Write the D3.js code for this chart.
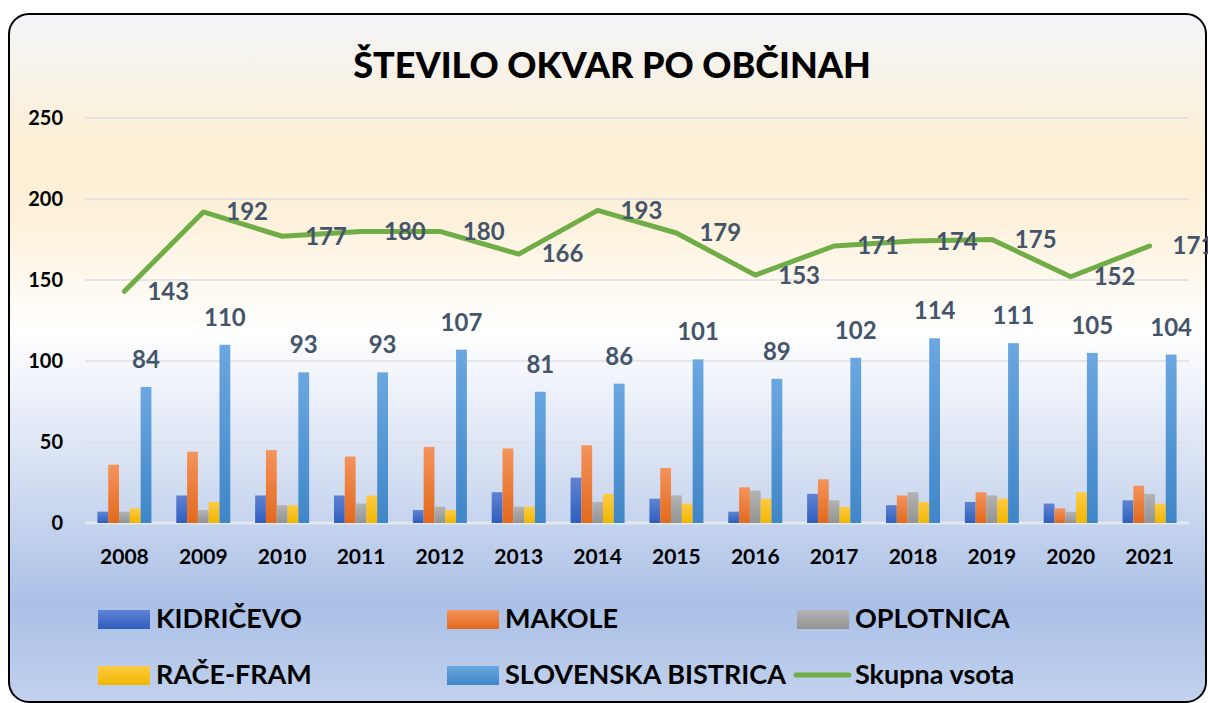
<!DOCTYPE html>
<html>
<head>
<meta charset="utf-8">
<script src="https://cdn.jsdelivr.net/npm/d3@7"></script>
<style>
  html, body { margin: 0; padding: 0; background: #fff; }
  svg { display: block; font-family: Lato, "Open Sans", sans-serif; font-weight: bold; }
</style>
</head>
<body>
<div id="chart"></div>
<script>
var years = ["2008","2009","2010","2011","2012","2013","2014","2015","2016","2017","2018","2019","2020","2021"];
var kidricevo = [7,17,17,17,8,19,28,15,7,18,11,13,12,14];
var makole = [36,44,45,41,47,46,48,34,22,27,17,19,9,23];
var oplotnica = [7,8,11,12,10,10,13,17,20,14,19,17,7,18];
var raceFram = [9,13,11,17,8,10,18,12,15,10,13,15,19,12];
var slovenskaBistrica = [84,110,93,93,107,81,86,101,89,102,114,111,105,104];
var skupnaVsota = [143,192,177,180,180,166,193,179,153,171,174,175,152,171];
var seriesNames = ["KIDRIČEVO","MAKOLE","OPLOTNICA","RAČE-FRAM","SLOVENSKA BISTRICA"];
var yTicks = [0,50,100,150,200,250];

(function() {
	"use strict";

	var width = 1208,
		height = 703,
		series = [kidricevo, makole, oplotnica, raceFram, slovenskaBistrica],
		colors = [
			["#5f83d3", "#2f5ebe"],
			["#f4935c", "#e3691c"],
			["#b3b3b3", "#939393"],
			["#ffca42", "#f0b700"],
			["#6ba7e0", "#3f86c8"]
		],
		labelColor = "#44546a";

	var svg = d3.select("#chart")
		.append("svg")
		.attr("width", width)
		.attr("height", height);

	var defs = svg.append("defs");

	var bg = defs.append("linearGradient")
		.attr("id", "bg")
		.attr("x1", 0).attr("y1", 0).attr("x2", 0).attr("y2", 1);
	[[0, "#f3f5f9"], [0.2, "#fdefd3"], [0.3, "#fdf1db"], [0.46, "#ffffff"],
	 [0.65, "#d9e2f3"], [0.86, "#aac0e6"], [1, "#c2d2ee"]].forEach(function(s) {
		bg.append("stop").attr("offset", s[0]).attr("stop-color", s[1]);
	});

	colors.forEach(function(c, i) {
		var g = defs.append("linearGradient")
			.attr("id", "bar" + i)
			.attr("x1", 0).attr("y1", 0).attr("x2", 0).attr("y2", 1);
		g.append("stop").attr("offset", 0).attr("stop-color", c[0]);
		g.append("stop").attr("offset", 1).attr("stop-color", c[1]);
	});

	// chart area with rounded border
	svg.append("rect")
		.attr("x", 9).attr("y", 14)
		.attr("width", 1197).attr("height", 688)
		.attr("rx", 20)
		.attr("fill", "url(#bg)")
		.attr("stroke", "#000")
		.attr("stroke-width", 2);

	svg.append("text")
		.attr("x", 612)
		.attr("y", 78)
		.attr("text-anchor", "middle")
		.attr("font-size", 36)
		.attr("font-weight", 900)
		.attr("fill", "#000")
		.text("ŠTEVILO OKVAR PO OBČINAH");

	var x0 = d3.scaleBand()
		.domain(years)
		.range([85, 1189]);

	var x1 = d3.scaleBand()
		.domain(d3.range(series.length))
		.range([0, x0.bandwidth()])
		.paddingOuter(1.15);

	var y = d3.scaleLinear()
		.domain([0, 250])
		.range([523, 118]);

	// gridlines
	svg.append("g")
		.selectAll("line")
		.data(yTicks)
		.enter()
		.append("line")
		.attr("x1", 85).attr("x2", 1189)
		.attr("y1", function(d) { return y(d); })
		.attr("y2", function(d) { return y(d); })
		.attr("stroke", function(d) { return d === 0 ? "#e4e8ef" : "#dcdfe4"; })
		.attr("stroke-width", function(d) { return d === 0 ? 3 : 1.5; });

	// y axis labels
	svg.append("g")
		.selectAll("text")
		.data(yTicks)
		.enter()
		.append("text")
		.attr("x", 63)
		.attr("y", function(d) { return y(d); })
		.attr("dy", "0.35em")
		.attr("text-anchor", "end")
		.attr("font-size", 20)
		.attr("fill", "#000")
		.text(function(d) { return d; });

	// x axis labels
	svg.append("g")
		.selectAll("text")
		.data(years)
		.enter()
		.append("text")
		.attr("x", function(d) { return x0(d) + x0.bandwidth() / 2; })
		.attr("y", 557)
		.attr("dy", "0.35em")
		.attr("text-anchor", "middle")
		.attr("font-size", 21)
		.attr("fill", "#000")
		.text(function(d) { return d; });

	// bars
	var groups = svg.append("g")
		.selectAll("g")
		.data(years)
		.enter()
		.append("g")
		.attr("transform", function(d) { return "translate(" + x0(d) + ",0)"; });

	groups.selectAll("rect")
		.data(function(d, i) {
			return series.map(function(s, k) { return { k: k, v: s[i] }; });
		})
		.enter()
		.append("rect")
		.attr("x", function(d) { return x1(d.k); })
		.attr("width", x1.bandwidth())
		.attr("y", function(d) { return y(d.v); })
		.attr("height", function(d) { return y(0) - y(d.v); })
		.attr("fill", function(d) { return "url(#bar" + d.k + ")"; });

	// labels on SLOVENSKA BISTRICA
	svg.append("g")
		.selectAll("text")
		.data(slovenskaBistrica)
		.enter()
		.append("text")
		.attr("x", function(d, i) { return x0(years[i]) + x1(4) + x1.bandwidth() / 2; })
		.attr("y", function(d) { return y(d) - 19; })
		.attr("text-anchor", "middle")
		.attr("font-size", 24)
		.attr("fill", labelColor)
		.text(function(d) { return d; });

	// total line
	var line = d3.line()
		.x(function(d, i) { return x0(years[i]) + x0.bandwidth() / 2; })
		.y(function(d) { return y(d); });

	svg.append("path")
		.datum(skupnaVsota)
		.attr("d", line)
		.attr("fill", "none")
		.attr("stroke", "#70ad47")
		.attr("stroke-width", 5)
		.attr("stroke-linecap", "round")
		.attr("stroke-linejoin", "round");

	svg.append("g")
		.selectAll("text")
		.data(skupnaVsota)
		.enter()
		.append("text")
		.attr("x", function(d, i) { return x0(years[i]) + x0.bandwidth() / 2 + 23; })
		.attr("y", function(d) { return y(d); })
		.attr("dy", "0.35em")
		.attr("text-anchor", "start")
		.attr("font-size", 24)
		.attr("fill", labelColor)
		.text(function(d) { return d; });

	// legend
	var legendItems = [
		{ name: seriesNames[0], k: 0, x: 98, y: 619 },
		{ name: seriesNames[1], k: 1, x: 447, y: 619 },
		{ name: seriesNames[2], k: 2, x: 797, y: 619 },
		{ name: seriesNames[3], k: 3, x: 98, y: 675 },
		{ name: seriesNames[4], k: 4, x: 447, y: 675 },
		{ name: "Skupna vsota", k: -1, x: 797, y: 675 }
	];

	var legend = svg.append("g")
		.selectAll("g")
		.data(legendItems)
		.enter()
		.append("g")
		.attr("transform", function(d) { return "translate(" + d.x + "," + d.y + ")"; });

	legend.filter(function(d) { return d.k >= 0; })
		.append("rect")
		.attr("x", 0).attr("y", -9)
		.attr("width", 52).attr("height", 19)
		.attr("fill", function(d) { return "url(#bar" + d.k + ")"; });

	legend.filter(function(d) { return d.k < 0; })
		.append("line")
		.attr("x1", -1).attr("x2", 52)
		.attr("y1", 0).attr("y2", 0)
		.attr("stroke", "#70ad47")
		.attr("stroke-width", 5)
		.attr("stroke-linecap", "round");

	legend.append("text")
		.attr("x", 58)
		.attr("y", 0)
		.attr("dy", "0.35em")
		.attr("font-size", 27)
		.attr("fill", "#000")
		.text(function(d) { return d.name; });
})();
</script>
</body>
</html>
